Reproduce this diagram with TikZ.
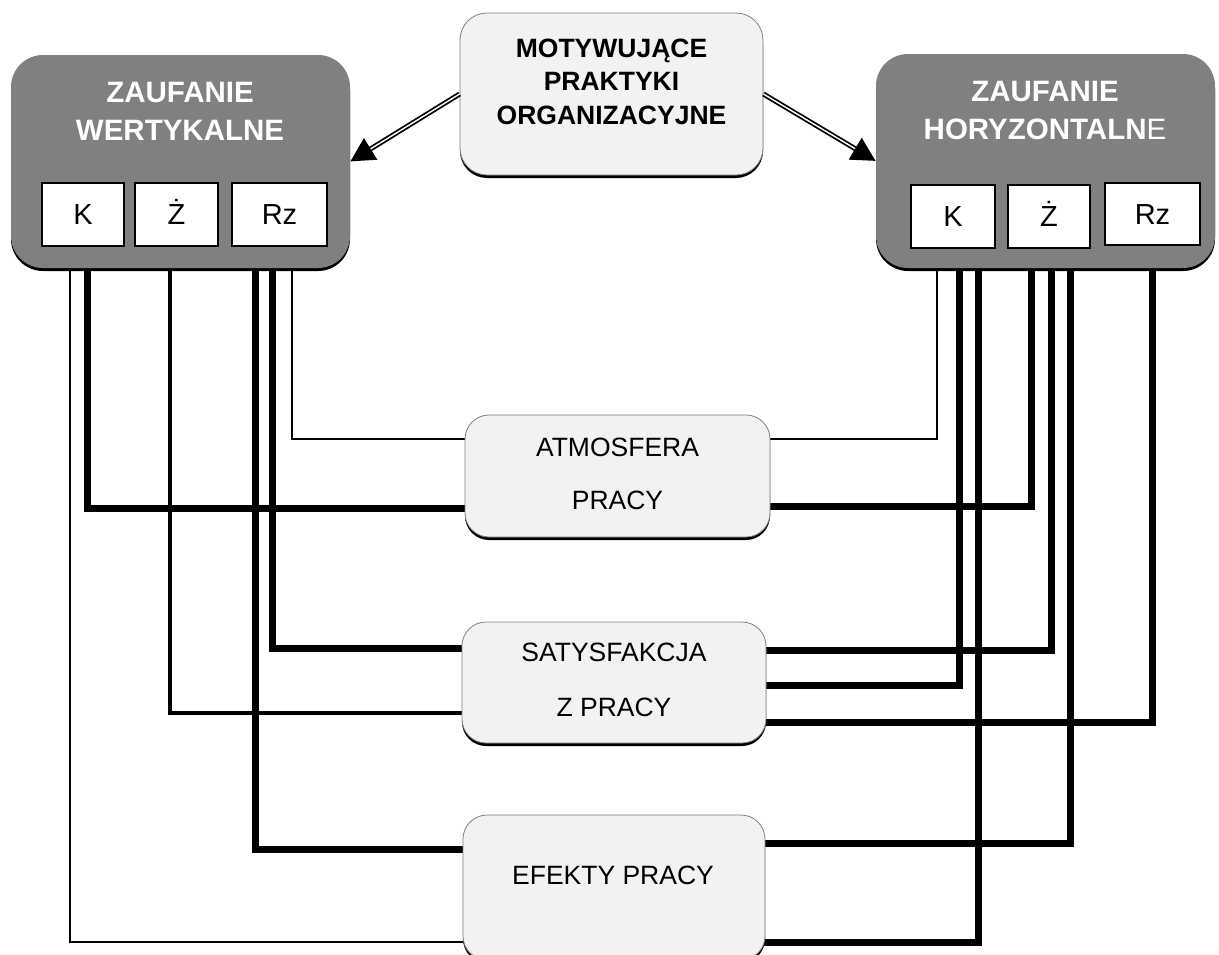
\documentclass[tikz,border=0pt]{standalone}
\usepackage{fontspec}
\setmainfont{Liberation Sans}
\usetikzlibrary{arrows.meta,shadows,backgrounds}
\definecolor{bgray}{HTML}{808080}
\definecolor{pale}{HTML}{F2F2F2}
\begin{document}
\begin{tikzpicture}[x=1pt,y=-1pt,
  bigbox/.style={rectangle, rounded corners=32pt, fill=bgray, draw=none, inner sep=0pt,
    drop shadow={shadow xshift=0pt,shadow yshift=-3pt,fill=black,opacity=1}},
  palebox/.style={rectangle, rounded corners=24pt, fill=pale, draw=bgray, line width=0.8pt, inner sep=0pt,
    drop shadow={shadow xshift=0pt,shadow yshift=-3pt,fill=black,opacity=1}},
  cell/.style={rectangle, fill=white, draw=black, line width=1.5pt, inner sep=0pt,
    font=\fontsize{29}{32}\selectfont, text height=20.8pt, text depth=0pt},
  titletext/.style={align=center, text=white, font=\bfseries\fontsize{29.5}{38.5}\selectfont, inner sep=0pt},
  mottext/.style={align=center, font=\bfseries\fontsize{26.5}{33.5}\selectfont, inner sep=0pt},
  boxtext/.style={align=center, inner sep=0pt},
  thinln/.style={line width=1.1pt, black, line join=miter},
  medln/.style={line width=3.8pt, black, line join=miter},
  thickln/.style={line width=7pt, black, line join=miter},
  shaft/.style={line width=5pt, black},
  shaftin/.style={line width=1.4pt, white}
]
\useasboundingbox (0,0) rectangle (1219,954);

% big boxes
\node[bigbox, minimum width=339pt, minimum height=213pt] (lv) at (180.5,161.5) {};
\node[bigbox, minimum width=339pt, minimum height=214pt] (rh) at (1045.5,161) {};
\node[titletext] (lvT) at (180,111.5) {ZAUFANIE\\WERTYKALNE};
\node[titletext] (rhT) at (1045,110.5) {ZAUFANIE\\HORYZONTALN{\mdseries E}};

% cells
\node[cell, minimum width=82pt, minimum height=63pt] (lvk) at (83,214.5) {K};
\node[cell, minimum width=83pt, minimum height=63pt] (lvz) at (176.5,214.5) {Ż};
\node[cell, minimum width=95pt, minimum height=63pt] (lvr) at (279.5,214.5) {Rz};
\node[cell, minimum width=84pt, minimum height=63pt] (rhk) at (953,216.5) {K};
\node[cell, minimum width=82pt, minimum height=63pt] (rhz) at (1049,216.5) {Ż};
\node[cell, minimum width=95pt, minimum height=62pt] (rhr) at (1152.5,214) {Rz};

% pale boxes
\node[palebox, rounded corners=27pt, minimum width=303pt, minimum height=162pt] (mot) at (611.5,94) {};
\node[mottext] (motT) at (611.5,81.5) {MOTYWUJĄCE\\PRAKTYKI\\ORGANIZACYJNE};
\node[palebox, minimum width=305pt, minimum height=122pt] (atm) at (617.5,476) {};
\node[boxtext, font=\fontsize{26.5}{53}\selectfont] (atmT) at (617.5,473.5) {ATMOSFERA\\PRACY};
\node[palebox, minimum width=304pt, minimum height=121pt] (sat) at (614,682.5) {};
\node[boxtext, font=\fontsize{26.5}{55}\selectfont] (satT) at (614,679.5) {SATYSFAKCJA\\Z PRACY};
\node[palebox, minimum width=302pt, minimum height=145pt] (ef) at (614,887.5) {};
\node[boxtext, font=\fontsize{26.5}{30}\selectfont] (efT) at (613,875) {EFEKTY PRACY};

% connectors behind boxes
\begin{pgfonlayer}{background}
\draw[thinln]  (lv.center -| 70,0)  |- (ef.center  |- 0,942);
\draw[thickln] (lv.center -| 87,0)  |- (atm.center |- 0,508);
\draw[medln]   (lv.center -| 170,0) |- (sat.center |- 0,713);
\draw[thickln] (lv.center -| 255,0) |- (ef.center  |- 0,849);
\draw[thickln] (lv.center -| 272,0) |- (sat.center |- 0,648);
\draw[thinln]  (lv.center -| 292,0) |- (atm.center |- 0,439);
\draw[thinln]  (rh.center -| 937,0)  |- (atm.center |- 0,439);
\draw[thickln] (rh.center -| 959,0)  |- (sat.center |- 0,685);
\draw[thickln] (rh.center -| 978,0)  |- (ef.center  |- 0,942);
\draw[thickln] (rh.center -| 1031,0) |- (atm.center |- 0,506);
\draw[thickln] (rh.center -| 1051,0) |- (sat.center |- 0,650);
\draw[thickln] (rh.center -| 1070,0) |- (ef.center  |- 0,843);
\draw[thickln] (rh.center -| 1152,0) |- (sat.center |- 0,722);
\end{pgfonlayer}

% arrows
\draw[shaft, -{Triangle[length=24pt,width=24pt]}] (mot.west) -- (lv.east);
\draw[shaftin, shorten >=24pt] (mot.west) -- (lv.east);
\draw[shaft, -{Triangle[length=24pt,width=24pt]}] (mot.east) -- (rh.west);
\draw[shaftin, shorten >=24pt] (mot.east) -- (rh.west);
\end{tikzpicture}
\end{document}
